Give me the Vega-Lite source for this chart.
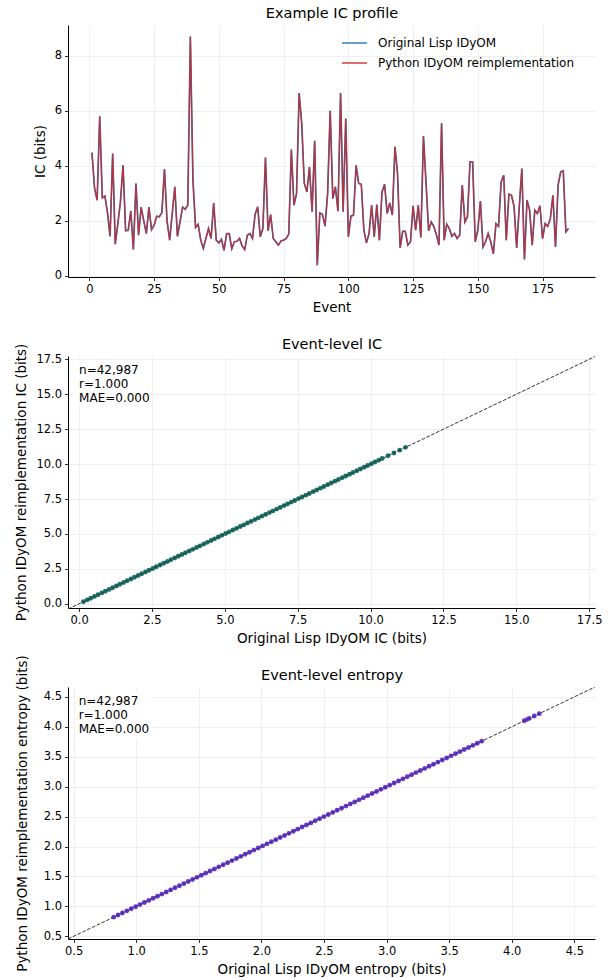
{
  "$schema": "https://vega.github.io/schema/vega-lite/v6.json",
  "background": "white",
  "padding": {"left": 14, "top": 5, "right": 6, "bottom": 4},
  "config": {
    "font": "DejaVu Sans",
    "view": {"stroke": null},
    "axis": {
      "domainColor": "#000000", "domainWidth": 1,
      "tickColor": "#000000", "tickSize": 3.5, "tickWidth": 0.8,
      "labelColor": "#000000", "labelFont": "DejaVu Sans", "labelFontSize": 11.5, "labelPadding": 3,
      "titleColor": "#000000", "titleFont": "DejaVu Sans", "titleFontSize": 13.5, "titleFontWeight": "normal", "titlePadding": 5,
      "gridColor": "#ebebeb", "gridWidth": 0.8, "labelFlush": false, "labelOverlap": false
    }
  },
  "datasets": {
    "profile": [
      {"event":1,"lisp":4.48,"python":4.48},{"event":2,"lisp":3.2,"python":3.2},{"event":3,"lisp":2.75,"python":2.75},{"event":4,"lisp":5.8,"python":5.8},{"event":5,"lisp":2.84,"python":2.84},
      {"event":6,"lisp":2.9,"python":2.9},{"event":7,"lisp":2.3,"python":2.3},{"event":8,"lisp":1.44,"python":1.44},{"event":9,"lisp":4.45,"python":4.45},{"event":10,"lisp":1.15,"python":1.15},
      {"event":11,"lisp":1.9,"python":1.9},{"event":12,"lisp":2.7,"python":2.7},{"event":13,"lisp":4.02,"python":4.02},{"event":14,"lisp":1.64,"python":1.64},{"event":15,"lisp":1.66,"python":1.66},
      {"event":16,"lisp":2.36,"python":2.36},{"event":17,"lisp":0.96,"python":0.96},{"event":18,"lisp":3.36,"python":3.36},{"event":19,"lisp":1.48,"python":1.48},{"event":20,"lisp":2.5,"python":2.5},
      {"event":21,"lisp":2.0,"python":2.0},{"event":22,"lisp":1.54,"python":1.54},{"event":23,"lisp":2.5,"python":2.5},{"event":24,"lisp":1.68,"python":1.68},{"event":25,"lisp":1.84,"python":1.84},
      {"event":26,"lisp":2.17,"python":2.17},{"event":27,"lisp":2.15,"python":2.15},{"event":28,"lisp":2.3,"python":2.3},{"event":29,"lisp":3.88,"python":3.88},{"event":30,"lisp":2.0,"python":2.0},
      {"event":31,"lisp":1.3,"python":1.3},{"event":32,"lisp":2.27,"python":2.27},{"event":33,"lisp":3.24,"python":3.24},{"event":34,"lisp":1.44,"python":1.44},{"event":35,"lisp":1.96,"python":1.96},
      {"event":36,"lisp":2.5,"python":2.5},{"event":37,"lisp":2.42,"python":2.42},{"event":38,"lisp":2.57,"python":2.57},{"event":39,"lisp":8.7,"python":8.7},{"event":40,"lisp":3.48,"python":3.48},
      {"event":41,"lisp":1.76,"python":1.76},{"event":42,"lisp":1.88,"python":1.88},{"event":43,"lisp":1.3,"python":1.3},{"event":44,"lisp":1.0,"python":1.0},{"event":45,"lisp":1.36,"python":1.36},
      {"event":46,"lisp":1.72,"python":1.72},{"event":47,"lisp":1.36,"python":1.36},{"event":48,"lisp":2.65,"python":2.65},{"event":49,"lisp":1.3,"python":1.3},{"event":50,"lisp":1.2,"python":1.2},
      {"event":51,"lisp":1.33,"python":1.33},{"event":52,"lisp":0.93,"python":0.93},{"event":53,"lisp":1.54,"python":1.54},{"event":54,"lisp":1.54,"python":1.54},{"event":55,"lisp":0.99,"python":0.99},
      {"event":56,"lisp":1.24,"python":1.24},{"event":57,"lisp":1.26,"python":1.26},{"event":58,"lisp":1.36,"python":1.36},{"event":59,"lisp":1.08,"python":1.08},{"event":60,"lisp":0.96,"python":0.96},
      {"event":61,"lisp":1.48,"python":1.48},{"event":62,"lisp":1.54,"python":1.54},{"event":63,"lisp":1.36,"python":1.36},{"event":64,"lisp":2.24,"python":2.24},{"event":65,"lisp":2.51,"python":2.51},
      {"event":66,"lisp":1.42,"python":1.42},{"event":67,"lisp":1.72,"python":1.72},{"event":68,"lisp":4.3,"python":4.3},{"event":69,"lisp":1.64,"python":1.64},{"event":70,"lisp":2.23,"python":2.23},
      {"event":71,"lisp":1.36,"python":1.36},{"event":72,"lisp":1.24,"python":1.24},{"event":73,"lisp":1.12,"python":1.12},{"event":74,"lisp":1.27,"python":1.27},{"event":75,"lisp":1.3,"python":1.3},
      {"event":76,"lisp":1.36,"python":1.36},{"event":77,"lisp":1.52,"python":1.52},{"event":78,"lisp":4.59,"python":4.59},{"event":79,"lisp":2.57,"python":2.57},{"event":80,"lisp":2.99,"python":2.99},
      {"event":81,"lisp":6.65,"python":6.65},{"event":82,"lisp":5.54,"python":5.54},{"event":83,"lisp":3.36,"python":3.36},{"event":84,"lisp":3.05,"python":3.05},{"event":85,"lisp":3.96,"python":3.96},
      {"event":86,"lisp":2.33,"python":2.33},{"event":87,"lisp":4.91,"python":4.91},{"event":88,"lisp":0.39,"python":0.39},{"event":89,"lisp":2.29,"python":2.29},{"event":90,"lisp":2.24,"python":2.24},
      {"event":91,"lisp":1.81,"python":1.81},{"event":92,"lisp":2.99,"python":2.99},{"event":93,"lisp":6.0,"python":6.0},{"event":94,"lisp":2.81,"python":2.81},{"event":95,"lisp":3.24,"python":3.24},
      {"event":96,"lisp":2.35,"python":2.35},{"event":97,"lisp":6.65,"python":6.65},{"event":98,"lisp":2.33,"python":2.33},{"event":99,"lisp":5.72,"python":5.72},{"event":100,"lisp":1.42,"python":1.42},
      {"event":101,"lisp":2.17,"python":2.17},{"event":102,"lisp":2.21,"python":2.21},{"event":103,"lisp":4.02,"python":4.02},{"event":104,"lisp":3.36,"python":3.36},{"event":105,"lisp":3.33,"python":3.33},
      {"event":106,"lisp":1.66,"python":1.66},{"event":107,"lisp":1.2,"python":1.2},{"event":108,"lisp":1.54,"python":1.54},{"event":109,"lisp":2.57,"python":2.57},{"event":110,"lisp":1.42,"python":1.42},
      {"event":111,"lisp":2.59,"python":2.59},{"event":112,"lisp":1.3,"python":1.3},{"event":113,"lisp":3.05,"python":3.05},{"event":114,"lisp":3.33,"python":3.33},{"event":115,"lisp":2.27,"python":2.27},
      {"event":116,"lisp":2.65,"python":2.65},{"event":117,"lisp":2.21,"python":2.21},{"event":118,"lisp":4.69,"python":4.69},{"event":119,"lisp":3.72,"python":3.72},{"event":120,"lisp":1.02,"python":1.02},
      {"event":121,"lisp":1.62,"python":1.62},{"event":122,"lisp":1.62,"python":1.62},{"event":123,"lisp":1.12,"python":1.12},{"event":124,"lisp":1.24,"python":1.24},{"event":125,"lisp":2.55,"python":2.55},
      {"event":126,"lisp":1.66,"python":1.66},{"event":127,"lisp":2.57,"python":2.57},{"event":128,"lisp":1.4,"python":1.4},{"event":129,"lisp":5.08,"python":5.08},{"event":130,"lisp":3.4,"python":3.4},
      {"event":131,"lisp":1.64,"python":1.64},{"event":132,"lisp":1.96,"python":1.96},{"event":133,"lisp":1.8,"python":1.8},{"event":134,"lisp":1.5,"python":1.5},{"event":135,"lisp":1.12,"python":1.12},
      {"event":136,"lisp":5.55,"python":5.55},{"event":137,"lisp":1.3,"python":1.3},{"event":138,"lisp":1.88,"python":1.88},{"event":139,"lisp":1.72,"python":1.72},{"event":140,"lisp":1.44,"python":1.44},
      {"event":141,"lisp":1.54,"python":1.54},{"event":142,"lisp":1.36,"python":1.36},{"event":143,"lisp":1.48,"python":1.48},{"event":144,"lisp":3.3,"python":3.3},{"event":145,"lisp":1.96,"python":1.96},
      {"event":146,"lisp":2.15,"python":2.15},{"event":147,"lisp":4.15,"python":4.15},{"event":148,"lisp":4.15,"python":4.15},{"event":149,"lisp":1.24,"python":1.24},{"event":150,"lisp":1.66,"python":1.66},
      {"event":151,"lisp":2.72,"python":2.72},{"event":152,"lisp":1.05,"python":1.05},{"event":153,"lisp":1.24,"python":1.24},{"event":154,"lisp":1.54,"python":1.54},{"event":155,"lisp":1.24,"python":1.24},
      {"event":156,"lisp":0.8,"python":0.8},{"event":157,"lisp":1.9,"python":1.9},{"event":158,"lisp":1.8,"python":1.8},{"event":159,"lisp":3.42,"python":3.42},{"event":160,"lisp":3.66,"python":3.66},
      {"event":161,"lisp":1.3,"python":1.3},{"event":162,"lisp":2.97,"python":2.97},{"event":163,"lisp":2.93,"python":2.93},{"event":164,"lisp":2.53,"python":2.53},{"event":165,"lisp":1.02,"python":1.02},
      {"event":166,"lisp":2.5,"python":2.5},{"event":167,"lisp":3.9,"python":3.9},{"event":168,"lisp":0.6,"python":0.6},{"event":169,"lisp":2.75,"python":2.75},{"event":170,"lisp":2.39,"python":2.39},
      {"event":171,"lisp":1.12,"python":1.12},{"event":172,"lisp":2.39,"python":2.39},{"event":173,"lisp":2.27,"python":2.27},{"event":174,"lisp":2.55,"python":2.55},{"event":175,"lisp":1.36,"python":1.36},
      {"event":176,"lisp":1.9,"python":1.9},{"event":177,"lisp":1.8,"python":1.8},{"event":178,"lisp":2.08,"python":2.08},{"event":179,"lisp":2.93,"python":2.93},{"event":180,"lisp":1.05,"python":1.05},
      {"event":181,"lisp":3.3,"python":3.3},{"event":182,"lisp":3.78,"python":3.78},{"event":183,"lisp":3.82,"python":3.82},{"event":184,"lisp":1.6,"python":1.6},{"event":185,"lisp":1.72,"python":1.72}
    ],
    "ic": [
      {"lisp":0.15,"python":0.15},{"lisp":0.28,"python":0.28},{"lisp":0.4,"python":0.4},{"lisp":0.53,"python":0.53},{"lisp":0.65,"python":0.65},{"lisp":0.78,"python":0.78},{"lisp":0.9,"python":0.9},
      {"lisp":1.03,"python":1.03},{"lisp":1.15,"python":1.15},{"lisp":1.28,"python":1.28},{"lisp":1.4,"python":1.4},{"lisp":1.53,"python":1.53},{"lisp":1.65,"python":1.65},{"lisp":1.78,"python":1.78},
      {"lisp":1.9,"python":1.9},{"lisp":2.03,"python":2.03},{"lisp":2.15,"python":2.15},{"lisp":2.28,"python":2.28},{"lisp":2.4,"python":2.4},{"lisp":2.53,"python":2.53},{"lisp":2.65,"python":2.65},
      {"lisp":2.78,"python":2.78},{"lisp":2.9,"python":2.9},{"lisp":3.03,"python":3.03},{"lisp":3.15,"python":3.15},{"lisp":3.28,"python":3.28},{"lisp":3.4,"python":3.4},{"lisp":3.53,"python":3.53},
      {"lisp":3.65,"python":3.65},{"lisp":3.78,"python":3.78},{"lisp":3.9,"python":3.9},{"lisp":4.03,"python":4.03},{"lisp":4.15,"python":4.15},{"lisp":4.28,"python":4.28},{"lisp":4.4,"python":4.4},
      {"lisp":4.53,"python":4.53},{"lisp":4.65,"python":4.65},{"lisp":4.78,"python":4.78},{"lisp":4.9,"python":4.9},{"lisp":5.03,"python":5.03},{"lisp":5.15,"python":5.15},{"lisp":5.28,"python":5.28},
      {"lisp":5.4,"python":5.4},{"lisp":5.53,"python":5.53},{"lisp":5.65,"python":5.65},{"lisp":5.78,"python":5.78},{"lisp":5.9,"python":5.9},{"lisp":6.03,"python":6.03},{"lisp":6.15,"python":6.15},
      {"lisp":6.28,"python":6.28},{"lisp":6.4,"python":6.4},{"lisp":6.53,"python":6.53},{"lisp":6.65,"python":6.65},{"lisp":6.78,"python":6.78},{"lisp":6.9,"python":6.9},{"lisp":7.03,"python":7.03},
      {"lisp":7.15,"python":7.15},{"lisp":7.28,"python":7.28},{"lisp":7.4,"python":7.4},{"lisp":7.53,"python":7.53},{"lisp":7.65,"python":7.65},{"lisp":7.78,"python":7.78},{"lisp":7.9,"python":7.9},
      {"lisp":8.03,"python":8.03},{"lisp":8.15,"python":8.15},{"lisp":8.28,"python":8.28},{"lisp":8.4,"python":8.4},{"lisp":8.53,"python":8.53},{"lisp":8.65,"python":8.65},{"lisp":8.78,"python":8.78},
      {"lisp":8.9,"python":8.9},{"lisp":9.03,"python":9.03},{"lisp":9.15,"python":9.15},{"lisp":9.28,"python":9.28},{"lisp":9.4,"python":9.4},{"lisp":9.53,"python":9.53},{"lisp":9.65,"python":9.65},
      {"lisp":9.78,"python":9.78},{"lisp":9.9,"python":9.9},{"lisp":10.03,"python":10.03},{"lisp":10.15,"python":10.15},{"lisp":10.28,"python":10.28},{"lisp":10.4,"python":10.4},
      {"lisp":10.6,"python":10.6},{"lisp":10.8,"python":10.8},{"lisp":11.0,"python":11.0},{"lisp":11.2,"python":11.2}
    ],
    "entropy": [
      {"lisp":0.82,"python":0.82},{"lisp":0.855,"python":0.855},{"lisp":0.89,"python":0.89},{"lisp":0.925,"python":0.925},{"lisp":0.96,"python":0.96},{"lisp":0.995,"python":0.995},
      {"lisp":1.03,"python":1.03},{"lisp":1.065,"python":1.065},{"lisp":1.1,"python":1.1},{"lisp":1.135,"python":1.135},{"lisp":1.17,"python":1.17},{"lisp":1.205,"python":1.205},
      {"lisp":1.24,"python":1.24},{"lisp":1.275,"python":1.275},{"lisp":1.31,"python":1.31},{"lisp":1.345,"python":1.345},{"lisp":1.38,"python":1.38},{"lisp":1.415,"python":1.415},
      {"lisp":1.45,"python":1.45},{"lisp":1.485,"python":1.485},{"lisp":1.52,"python":1.52},{"lisp":1.555,"python":1.555},{"lisp":1.59,"python":1.59},{"lisp":1.625,"python":1.625},
      {"lisp":1.66,"python":1.66},{"lisp":1.695,"python":1.695},{"lisp":1.73,"python":1.73},{"lisp":1.765,"python":1.765},{"lisp":1.8,"python":1.8},{"lisp":1.835,"python":1.835},
      {"lisp":1.87,"python":1.87},{"lisp":1.905,"python":1.905},{"lisp":1.94,"python":1.94},{"lisp":1.975,"python":1.975},{"lisp":2.01,"python":2.01},{"lisp":2.045,"python":2.045},
      {"lisp":2.08,"python":2.08},{"lisp":2.115,"python":2.115},{"lisp":2.15,"python":2.15},{"lisp":2.185,"python":2.185},{"lisp":2.22,"python":2.22},{"lisp":2.255,"python":2.255},
      {"lisp":2.29,"python":2.29},{"lisp":2.325,"python":2.325},{"lisp":2.36,"python":2.36},{"lisp":2.395,"python":2.395},{"lisp":2.43,"python":2.43},{"lisp":2.465,"python":2.465},
      {"lisp":2.5,"python":2.5},{"lisp":2.535,"python":2.535},{"lisp":2.57,"python":2.57},{"lisp":2.605,"python":2.605},{"lisp":2.64,"python":2.64},{"lisp":2.675,"python":2.675},
      {"lisp":2.71,"python":2.71},{"lisp":2.745,"python":2.745},{"lisp":2.78,"python":2.78},{"lisp":2.815,"python":2.815},{"lisp":2.85,"python":2.85},{"lisp":2.885,"python":2.885},
      {"lisp":2.92,"python":2.92},{"lisp":2.955,"python":2.955},{"lisp":2.99,"python":2.99},{"lisp":3.025,"python":3.025},{"lisp":3.06,"python":3.06},{"lisp":3.095,"python":3.095},
      {"lisp":3.13,"python":3.13},{"lisp":3.165,"python":3.165},{"lisp":3.2,"python":3.2},{"lisp":3.235,"python":3.235},{"lisp":3.27,"python":3.27},{"lisp":3.305,"python":3.305},
      {"lisp":3.34,"python":3.34},{"lisp":3.375,"python":3.375},{"lisp":3.41,"python":3.41},{"lisp":3.445,"python":3.445},{"lisp":3.48,"python":3.48},{"lisp":3.515,"python":3.515},
      {"lisp":3.55,"python":3.55},{"lisp":3.585,"python":3.585},{"lisp":3.62,"python":3.62},{"lisp":3.655,"python":3.655},{"lisp":3.69,"python":3.69},{"lisp":3.725,"python":3.725},
      {"lisp":3.76,"python":3.76},{"lisp":4.1,"python":4.1},{"lisp":4.12,"python":4.12},{"lisp":4.14,"python":4.14},{"lisp":4.18,"python":4.18},{"lisp":4.22,"python":4.22}
    ],
    "icdiag": [{"v": -0.38}, {"v": 17.74}],
    "entdiag": [{"v": 0.455}, {"v": 4.665}],
    "icstats": [{"label": "n=42,987\nr=1.000\nMAE=0.000"}],
    "entstats": [{"label": "n=42,987\nr=1.000\nMAE=0.000"}]
  },
  "spacing": 79,
  "bounds": "flush",
  "vconcat": [
    {
      "width": 527, "height": 252,
      "data": {"name": "profile"},
      "resolve": {"axis": {"x": "independent"}},
      "layer": [
        {
          "mark": {"type": "line", "strokeWidth": 1.7, "clip": true},
          "encoding": {
            "x": {"field": "event", "type": "quantitative", "scale": {"domain": [-8.25, 195.25], "nice": false, "zero": false},
                  "axis": {"values": [0, 25, 50, 75, 100, 125, 150, 175], "tickCount": 30, "format": "d", "title": "Event", "labelOverlap": false}},
            "y": {"field": "lisp", "type": "quantitative", "scale": {"domain": [-0.04, 9.12], "nice": false, "zero": false},
                  "axis": {"values": [0, 2, 4, 6, 8], "tickCount": 30, "format": "d", "title": "IC (bits)", "labelOverlap": false, "titlePadding": 7}},
            "color": {"datum": "Original Lisp IDyOM", "type": "nominal",
                      "scale": {"domain": ["Original Lisp IDyOM", "Python IDyOM reimplementation"], "range": ["#1f77b4", "#d62728"]},
                      "legend": {"title": null, "orient": "none", "legendX": 273, "legendY": 4.5, "padding": 0, "symbolType": "stroke", "symbolSize": 625, "symbolStrokeWidth": 1.5,
                                 "labelFont": "DejaVu Sans", "labelFontSize": 12, "labelColor": "#000000", "labelOffset": 10, "rowPadding": -9, "labelLimit": 400}}
          }
        },
        {
          "mark": {"type": "line", "strokeWidth": 1.2, "opacity": 0.9, "clip": true},
          "encoding": {
            "x": {"field": "event", "type": "quantitative",
                  "axis": {"orient": "top", "title": "Example IC profile", "labels": false, "ticks": false, "domain": false, "grid": false,
                           "titleFontSize": 14.5, "titlePadding": 5}},
            "y": {"field": "python", "type": "quantitative"},
            "color": {"datum": "Python IDyOM reimplementation", "type": "nominal"}
          }
        }
      ]
    },
    {
      "width": 527, "height": 252,
      "resolve": {"axis": {"x": "independent"}},
      "layer": [
        {
          "data": {"name": "ic"},
          "mark": {"type": "point", "filled": true, "size": 24, "color": "#1a736a", "opacity": 1},
          "encoding": {
            "x": {"field": "lisp", "type": "quantitative", "scale": {"domain": [-0.38, 17.7], "nice": false, "zero": false},
                  "axis": {"values": [0, 2.5, 5, 7.5, 10, 12.5, 15, 17.5], "tickCount": 30, "format": ".1f", "title": "Original Lisp IDyOM IC (bits)", "labelOverlap": false}},
            "y": {"field": "python", "type": "quantitative", "scale": {"domain": [-0.3, 17.74], "nice": false, "zero": false},
                  "axis": {"values": [0, 2.5, 5, 7.5, 10, 12.5, 15, 17.5], "tickCount": 30, "format": ".1f", "title": "Python IDyOM reimplementation IC (bits)", "labelOverlap": false, "titlePadding": 7}}
          }
        },
        {
          "data": {"name": "icdiag"},
          "mark": {"type": "line", "color": "#333333", "strokeWidth": 1, "strokeDash": [3.7, 1.6], "clip": true},
          "encoding": {
            "x": {"field": "v", "type": "quantitative",
                  "axis": {"orient": "top", "title": "Event-level IC", "labels": false, "ticks": false, "domain": false, "grid": false,
                           "titleFontSize": 14.5, "titlePadding": 5}},
            "y": {"field": "v", "type": "quantitative"}
          }
        },
        {
          "data": {"name": "icstats"},
          "mark": {"type": "rect", "fill": "white", "opacity": 0.8},
          "encoding": {"x": {"datum": -0.15, "axis": null}, "x2": {"datum": 2.45}, "y": {"datum": 17.45}, "y2": {"datum": 14.1}}
        },
        {
          "data": {"name": "icstats"},
          "mark": {"type": "text", "align": "left", "baseline": "top", "font": "DejaVu Sans", "fontSize": 12, "lineHeight": 14, "lineBreak": "\n", "color": "#000000"},
          "encoding": {"text": {"field": "label"}, "x": {"datum": 0.0, "axis": null}, "y": {"datum": 17.11}}
        }
      ]
    },
    {
      "width": 527, "height": 252,
      "resolve": {"axis": {"x": "independent"}},
      "layer": [
        {
          "data": {"name": "entropy"},
          "mark": {"type": "point", "filled": true, "size": 24, "color": "#6a34dc", "opacity": 1},
          "encoding": {
            "x": {"field": "lisp", "type": "quantitative", "scale": {"domain": [0.455, 4.665], "nice": false, "zero": false},
                  "axis": {"values": [0.5, 1, 1.5, 2, 2.5, 3, 3.5, 4, 4.5], "tickCount": 30, "format": ".1f", "title": "Original Lisp IDyOM entropy (bits)", "labelOverlap": false}},
            "y": {"field": "python", "type": "quantitative", "scale": {"domain": [0.455, 4.665], "nice": false, "zero": false},
                  "axis": {"values": [0.5, 1, 1.5, 2, 2.5, 3, 3.5, 4, 4.5], "tickCount": 30, "format": ".1f", "title": "Python IDyOM reimplementation entropy (bits)", "labelOverlap": false, "titlePadding": 14}}
          }
        },
        {
          "data": {"name": "entdiag"},
          "mark": {"type": "line", "color": "#333333", "strokeWidth": 1, "strokeDash": [3.7, 1.6], "clip": true},
          "encoding": {
            "x": {"field": "v", "type": "quantitative",
                  "axis": {"orient": "top", "title": "Event-level entropy", "labels": false, "ticks": false, "domain": false, "grid": false,
                           "titleFontSize": 14.5, "titlePadding": 5}},
            "y": {"field": "v", "type": "quantitative"}
          }
        },
        {
          "data": {"name": "entstats"},
          "mark": {"type": "rect", "fill": "white", "opacity": 0.8},
          "encoding": {"x": {"datum": 0.51, "axis": null}, "x2": {"datum": 1.13}, "y": {"datum": 4.6}, "y2": {"datum": 3.79}}
        },
        {
          "data": {"name": "entstats"},
          "mark": {"type": "text", "align": "left", "baseline": "top", "font": "DejaVu Sans", "fontSize": 12, "lineHeight": 14, "lineBreak": "\n", "color": "#000000"},
          "encoding": {"text": {"field": "label"}, "x": {"datum": 0.54, "axis": null}, "y": {"datum": 4.52}}
        }
      ]
    }
  ]
}
